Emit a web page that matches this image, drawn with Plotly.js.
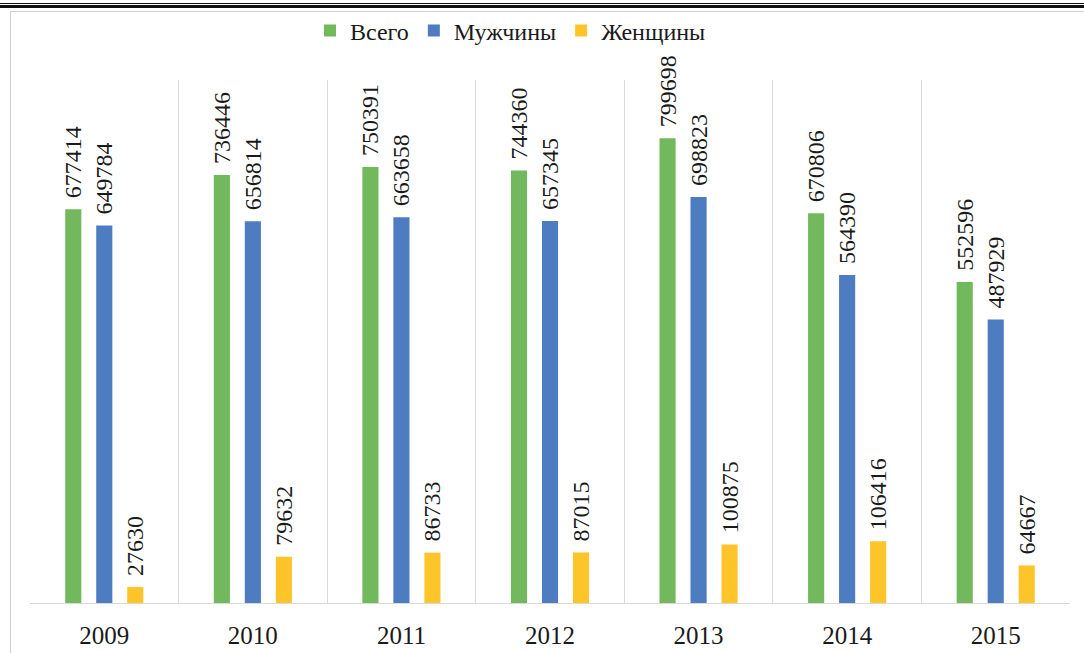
<!DOCTYPE html>
<html>
<head>
<meta charset="utf-8">
<script src="https://cdn.plot.ly/plotly-3.0.1.min.js"></script>
<style>
  body { margin: 0; background: #fff; }
  #wrap { position: relative; width: 1084px; height: 653px; overflow: hidden; }
  #topline1 { position: absolute; left: 0; top: 3px; width: 1084px; height: 1px; background: #111; }
  #topline2 { position: absolute; left: 0; top: 5px; width: 1084px; height: 3px; background: #111; }
  #frame { position: absolute; left: 10px; top: 11px; width: 1090px; height: 660px;
           border: 1px solid #cfcfcf; box-shadow: 1px 1px 2px #ddd; }
  #chart { position: absolute; left: 0; top: 0; width: 1084px; height: 653px; }
</style>
</head>
<body>
<div id="wrap">
  <div id="topline1"></div>
  <div id="topline2"></div>
  <div id="frame"></div>
  <div id="chart"></div>
</div>
<script>
document.addEventListener("DOMContentLoaded", function () {
    // Data
    const years = ['2009', '2010', '2011', '2012', '2013', '2014', '2015'];
    const total = [677414, 736446, 750391, 744360, 799698, 670806, 552596];
    const men = [649784, 656814, 663658, 657345, 698823, 564390, 487929];
    const women = [27630, 79632, 86733, 87015, 100875, 106416, 64667];

    const seriesNames = ['Всего', 'Мужчины', 'Женщины'];
    const seriesColors = ['#72b85c', '#4d7cc0', '#fec52a'];
    const seriesValues = [total, men, women];

    const serif = 'Times New Roman';
    const labelFont = { family: serif, size: 24, color: '#1a1a1a' };

    const traces = seriesValues.map(function (vals, i) {
        return {
            type: 'bar',
            name: seriesNames[i],
            x: years,
            y: vals,
            marker: { color: seriesColors[i] },
            // small gap between bar top and the rotated label
            text: vals.map(v => '\u2004' + v),
            textposition: 'outside',
            textangle: -90,
            constraintext: 'none',
            textfont: labelFont,
            outsidetextfont: labelFont,
            cliponaxis: false,
            hoverinfo: 'x+y'
        };
    });

    const layout = {
        width: 1084,
        height: 653,
        margin: { l: 30, r: 14, t: 80, b: 50, autoexpand: false },
        paper_bgcolor: 'rgba(0,0,0,0)',
        plot_bgcolor: 'rgba(0,0,0,0)',
        font: { family: serif },
        barmode: 'group',
        bargap: 0.374,
        bargroupgap: 0.48,
        showlegend: true,
        legend: {
            orientation: 'h',
            x: 0.462, xanchor: 'center',
            y: 1.094, yanchor: 'middle',
            font: { family: serif, size: 24, color: '#1a1a1a' },
            itemwidth: 30
        },
        xaxis: {
            type: 'category',
            tickson: 'boundaries',
            showgrid: true,
            gridcolor: '#d9d9d9',
            gridwidth: 1,
            showline: true,
            linecolor: '#d9d9d9',
            linewidth: 1,
            ticks: '',
            ticklabelstandoff: 10,
            tickfont: { family: serif, size: 25, color: '#1a1a1a' },
            fixedrange: true
        },
        yaxis: {
            range: [0, 900000],
            visible: false,
            showgrid: false,
            zeroline: false,
            fixedrange: true
        }
    };

    Plotly.newPlot('chart', traces, layout, { displayModeBar: false, staticPlot: true });
});
</script>
</body>
</html>
